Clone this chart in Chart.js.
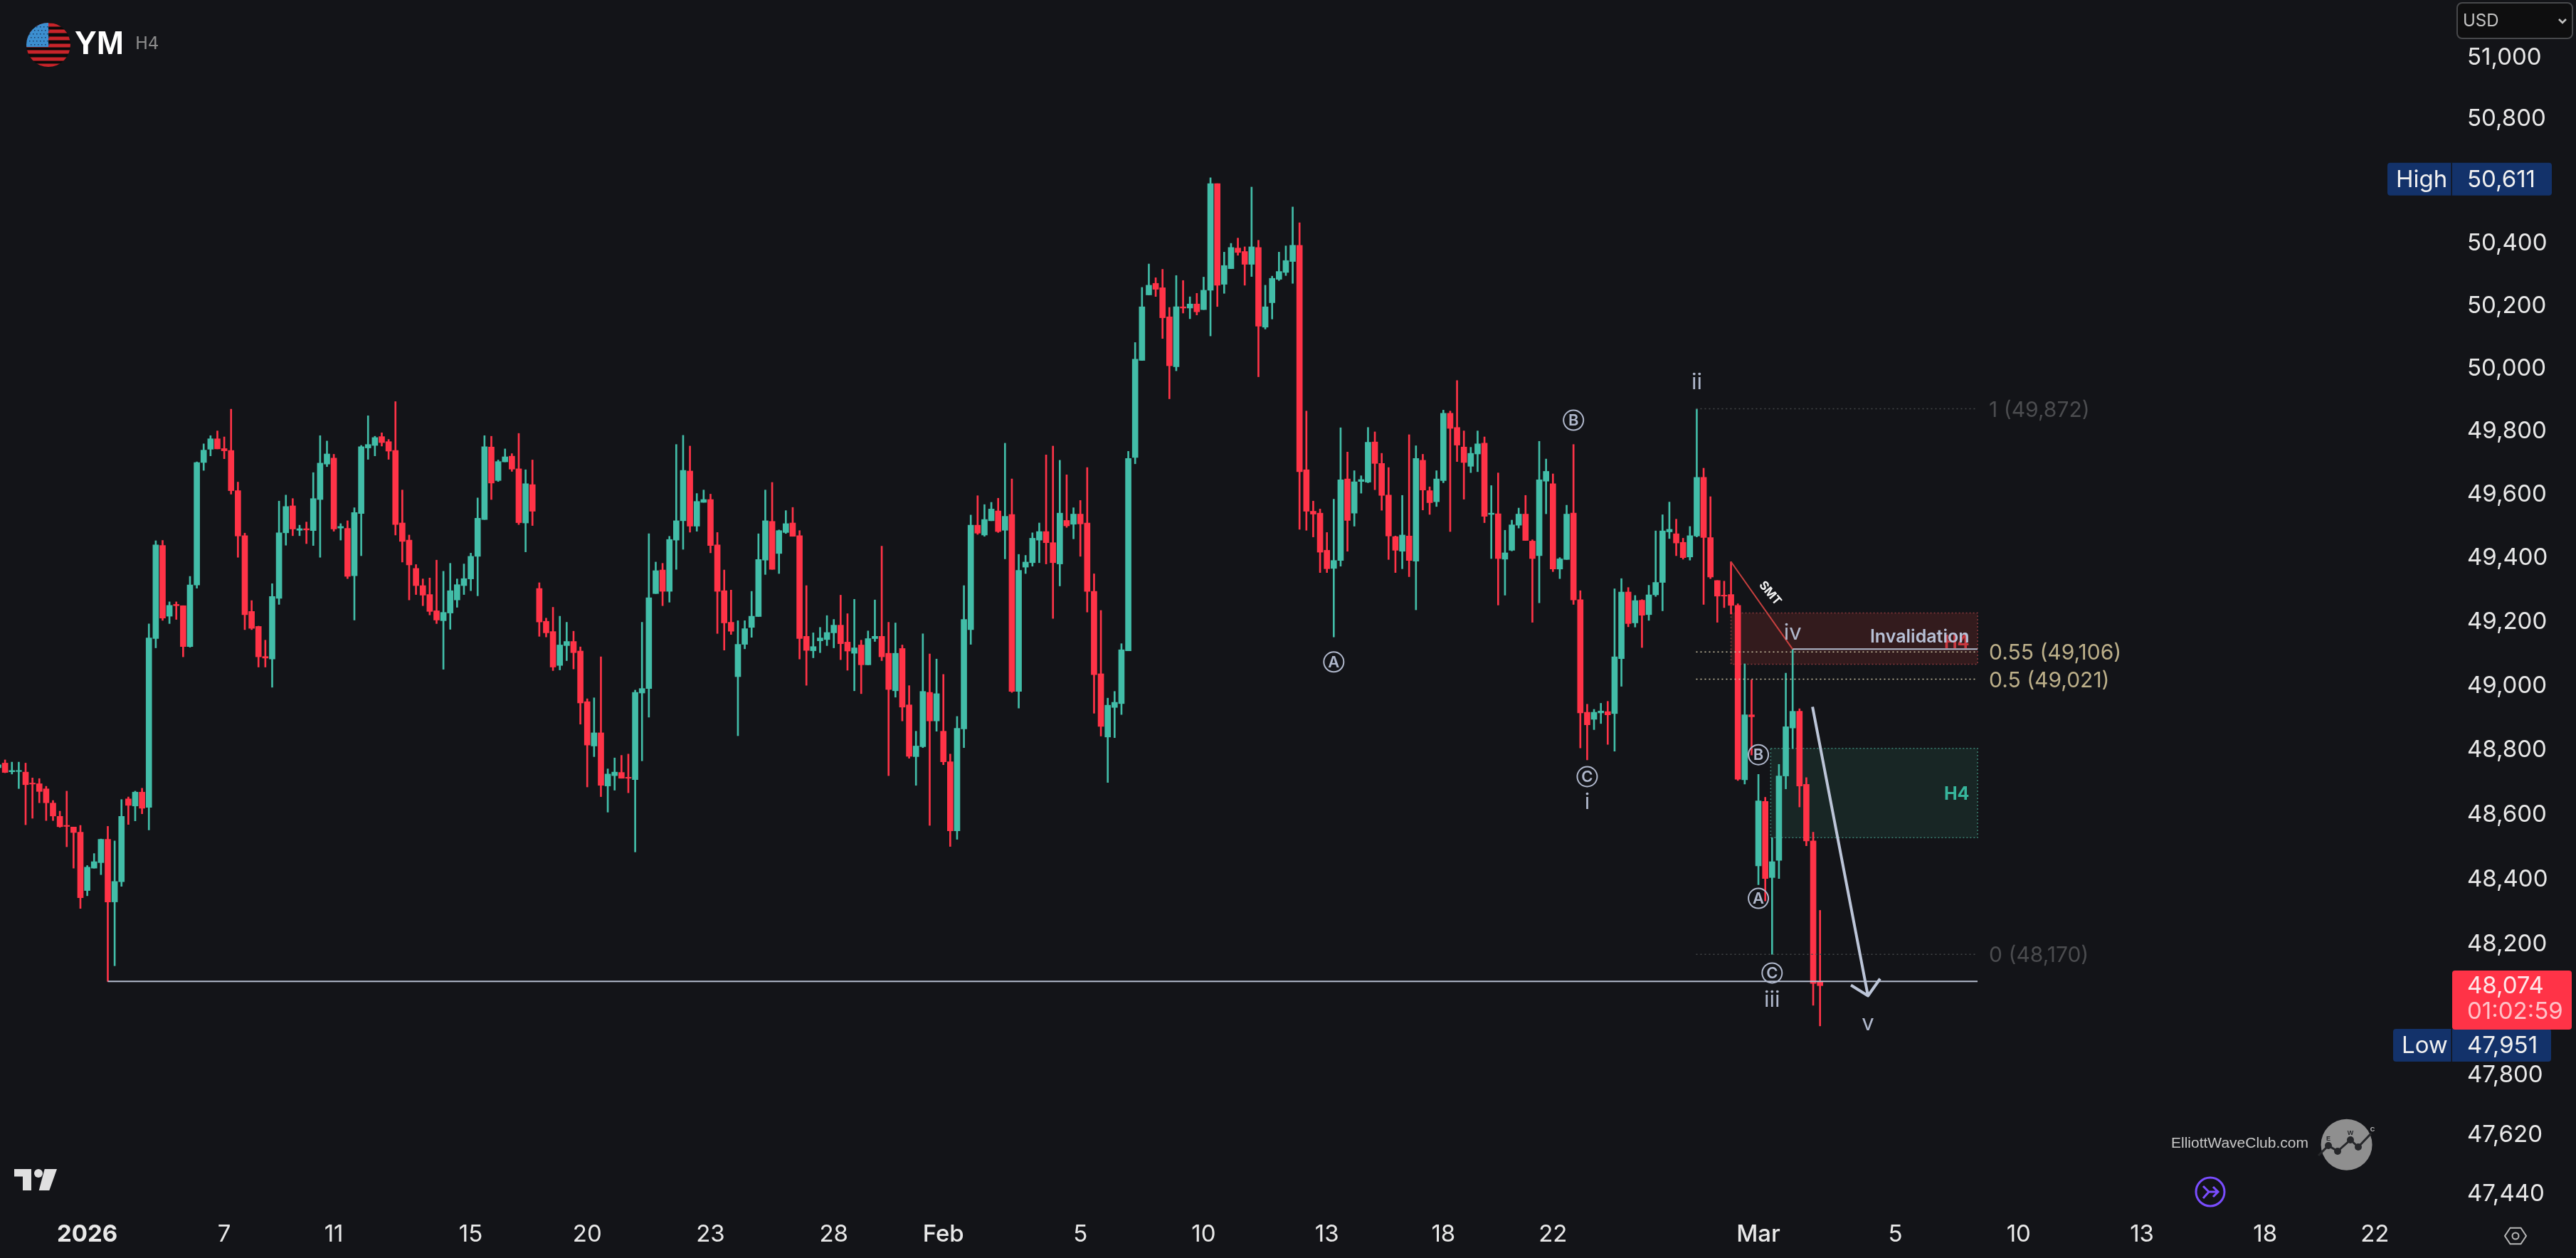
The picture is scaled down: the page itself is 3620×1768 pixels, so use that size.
<!DOCTYPE html>
<html>
<head>
<meta charset="utf-8">
<title>YM H4</title>
<script src="https://cdn.jsdelivr.net/npm/chart.js@4/dist/chart.umd.min.js"></script>
<style>
  html, body { margin: 0; padding: 0; background: #131418; }
  canvas { display: block; }
</style>
</head>
<body>
<canvas id="ymChart" width="3620" height="1768"></canvas>
<script>
const opens = [
  48746,48760,48733,48734,48732,48698,48696,48680,48636,48595,
  48567,48562,48546,48366,48435,48452,48524,48331,48393,48649,
  48627,48670,48623,49148,49440,49218,49255,49251,49123,49316,
  49702,49744,49777,49746,49740,49613,49471,49233,49186,49092,
  49084,49274,49480,49565,49488,49493,49487,49585,49697,49716,
  49495,49494,49345,49541,49748,49756,49784,49768,49740,49511,
  49457,49368,49314,49286,49235,49204,49228,49269,49314,49335,
  49406,49522,49751,49645,49704,49722,49682,49511,49632,49305,
  49202,49170,49064,49126,49139,49109,48951,48813,48854,48689,
  48721,48731,48716,48709,48978,48992,49289,49363,49296,49457,
  49518,49675,49501,49576,49585,49442,49298,49199,49029,49130,
  49183,49217,49394,49516,49415,49481,49511,49471,49155,49110,
  49141,49145,49166,49190,49137,49102,49128,49066,49148,49155,
  49102,48985,49117,48941,48780,48811,48980,48891,48859,48764,
  48550,48866,49176,49504,49473,49518,49549,49488,49538,48983,
  49372,49386,49457,49484,49449,49382,49519,49507,49539,49511,
  49296,49038,48841,48933,48945,49110,49718,50026,50235,50272,
  50258,50165,50006,50197,50193,50206,50188,50250,50592,50269,
  50319,50385,50374,50333,50387,50132,50210,50285,50307,50342,
  50394,49679,49548,49542,49425,49368,49393,49650,49542,49642,
  49640,49767,49699,49599,49468,49422,49470,49391,49709,49613,
  49578,49645,49858,49813,49751,49690,49729,49763,49538,49540,
  49397,49425,49504,49539,49454,49408,49643,49635,49366,49396,
  49542,49270,48918,48896,48916,48920,48914,49085,49294,49197,
  49268,49223,49285,49324,49483,49477,49450,49404,49470,49655,
  49465,49330,49284,49286,49252,48708,48910,48442,48641,48406,
  48459,48720,48869,48921,48694,48519,48087
];
const highs = [
  48761,48770,48763,48763,48760,48714,48712,48688,48644,48611,
  48673,48562,48567,48443,48480,48525,48564,48519,48647,48655,
  48673,48682,49194,49455,49456,49263,49263,49251,49343,49704,
  49761,49787,49802,49783,49871,49640,49479,49267,49187,49143,
  49320,49580,49599,49588,49504,49514,49670,49787,49770,49728,
  49509,49518,49559,49756,49850,49785,49796,49775,49895,49615,
  49473,49380,49335,49338,49394,49359,49384,49335,49382,49416,
  49590,49787,49785,49710,49745,49730,49794,49679,49710,49323,
  49212,49246,49218,49199,49171,49122,48960,48963,49091,48742,
  48776,48784,48788,48987,49199,49477,49388,49384,49469,49759,
  49788,49754,49604,49615,49602,49481,49363,49300,49204,49204,
  49296,49477,49615,49639,49489,49550,49560,49487,49314,49166,
  49183,49220,49208,49284,49226,49271,49143,49172,49269,49438,
  49199,49197,49128,49001,48859,49163,49100,49084,49036,48788,
  48905,49314,49536,49597,49569,49576,49589,49763,49650,49412,
  49409,49480,49511,49726,49754,49709,49663,49559,49582,49686,
  49351,49236,48962,48983,49132,49737,50083,50259,50334,50290,
  50317,50195,50297,50281,50229,50240,50292,50611,50592,50372,
  50400,50417,50389,50581,50410,50266,50295,50372,50392,50517,
  50466,49865,49580,49555,49481,49586,49812,49735,49676,49660,
  49813,49799,49731,49686,49470,49598,49790,49755,49728,49625,
  49676,49868,49865,49962,49802,49750,49802,49783,49629,49669,
  49488,49520,49558,49598,49458,49769,49713,49666,49402,49567,
  49759,49298,48943,48927,48946,48952,49304,49336,49308,49283,
  49270,49315,49486,49537,49577,49523,49463,49500,49872,49684,
  49594,49330,49328,49389,49257,49069,49019,48725,48654,48529,
  48756,49040,49116,48929,48715,48546,48305
];
const lows = [
  48743,48730,48726,48681,48569,48589,48637,48582,48582,48561,
  48501,48435,48311,48350,48435,48415,48087,48135,48379,48570,
  48581,48603,48553,49119,49205,49195,49208,49091,49121,49306,
  49677,49723,49745,49714,49602,49403,49176,49176,49059,49059,
  48996,49255,49441,49471,49471,49446,49440,49403,49689,49485,
  49457,49336,49206,49408,49712,49723,49754,49712,49473,49388,
  49269,49286,49251,49222,49195,49052,49177,49246,49286,49298,
  49282,49522,49585,49642,49704,49674,49506,49420,49503,49155,
  49153,49048,49050,49079,49053,48881,48686,48780,48656,48608,
  48676,48713,48668,48485,48767,48903,49289,49251,49262,49365,
  49428,49482,49485,49576,49417,49164,49112,49161,48845,49116,
  49152,49217,49349,49365,49352,49478,49469,49084,49002,49088,
  49104,49126,49119,49082,49049,48985,48976,49066,49139,49079,
  48721,48965,48891,48775,48691,48808,48567,48859,48755,48502,
  48524,48808,49130,49475,49469,49518,49481,49398,48980,48931,
  49352,49375,49386,49382,49211,49313,49497,49461,49406,49231,
  48915,48844,48700,48839,48911,49110,49698,50026,50235,50230,
  50096,49904,49993,50177,50159,50171,50188,50104,50198,50240,
  50319,50362,50266,50294,49974,50126,50158,50281,50297,50272,
  49491,49488,49467,49355,49355,49153,49375,49422,49501,49605,
  49638,49616,49551,49396,49355,49367,49342,49238,49552,49538,
  49563,49638,49484,49705,49586,49670,49673,49512,49399,49253,
  49284,49423,49495,49456,49199,49260,49540,49358,49336,49396,
  49255,48807,48770,48864,48883,48818,48797,48999,49185,49184,
  49120,49205,49280,49235,49462,49408,49397,49394,49467,49255,
  49336,49199,49245,49225,48706,48695,48785,48384,48334,48170,
  48403,48680,48805,48624,48504,48014,47951
];
const closes = [
  48755,48731,48737,48737,48693,48695,48672,48637,48596,48563,
  48564,48545,48344,48438,48455,48524,48331,48394,48595,48629,
  48670,48620,49150,49442,49212,49252,49251,49123,49316,49702,
  49741,49777,49745,49739,49613,49470,49223,49180,49091,49087,
  49280,49480,49563,49492,49493,49489,49588,49700,49729,49492,
  49500,49343,49544,49752,49759,49781,49765,49738,49506,49453,
  49379,49314,49284,49233,49206,49230,49298,49317,49336,49406,
  49526,49752,49637,49705,49720,49681,49512,49635,49548,49200,
  49166,49059,49128,49139,49104,48947,48816,48854,48691,48726,
  48732,48713,48713,48980,48992,49276,49361,49296,49459,49518,
  49677,49501,49579,49585,49440,49296,49197,49171,49130,49179,
  49218,49396,49518,49365,49487,49509,49469,49148,49111,49123,
  49150,49167,49190,49132,49109,49119,49066,49148,49155,49091,
  48989,49102,48934,48781,48813,48983,48891,48976,48764,48550,
  48868,49208,49504,49479,49522,49555,49484,49532,48983,49362,
  49388,49463,49484,49449,49386,49542,49502,49539,49508,49296,
  49035,48874,48940,48949,49113,49715,50030,50197,50266,50253,
  50162,50009,50197,50193,50206,50181,50250,50592,50266,50329,
  50387,50371,50333,50389,50135,50197,50288,50310,50345,50394,
  49673,49548,49539,49419,49367,49393,49647,49519,49641,49648,
  49766,49699,49598,49470,49425,49473,49393,49715,49615,49575,
  49650,49858,49810,49757,49702,49731,49761,49532,49542,49399,
  49417,49505,49539,49456,49399,49647,49674,49366,49398,49539,
  49269,48916,48879,48918,48922,48910,49091,49294,49195,49267,
  49221,49285,49324,49486,49491,49448,49402,49471,49655,49465,
  49341,49281,49281,49252,48710,48910,48904,48643,48403,48455,
  48720,48873,48921,48689,48519,48081,48074
];

// price axis
const priceTicks = [51000,50800,50400,50200,50000,49800,49600,49400,49200,49000,48800,48600,48400,48200,47800,47620,47440];
// time axis, position is the candle number
const timeTickBars = [13,33,49,69,86,104,122,138,158,176,194,211,227,257,277,295,313,331,347];
const timeTickLabels = ['2026','7','11','15','20','23','28','Feb','5','10','13','18','22','Mar','5','10','13','18','22'];

// fib levels
const fibValues = [49872,49106,49021,48170];
const fibLabels = ['1 (49,872)','0.55 (49,106)','0.5 (49,021)','0 (48,170)'];

// wave counts: text, candle number, price
const waveCircled = ['A','B','C','B','A','C'];
const waveCircledBars = [195,230,232,257,257,259];
const waveCircledPrices = [49075,49836,48718,48786,48342,48113];
const waveRoman = ['i','ii','iii','iv','v'];
const waveRomanBars = [232,248,259,262,273];
const waveRomanPrices = [48639,49956,48030,49166,47958];

const TEAL = '#42bda8';
const RED = '#ff3347';
const BG = '#131418';
const FONT = 'Inter, sans-serif';

const candleColors = closes.map((c, i) => (c >= opens[i] ? TEAL : RED));
const wicks = highs.map((h, i) => ({ x: i, y: [lows[i], h] }));
const bodies = closes.map((c, i) => ({ x: i, y: [opens[i], c] }));

const zonesPlugin = {
  id: 'zones',
  beforeDatasetsDraw(chart) {
    const { ctx, scales: { x, y } } = chart;
    const box = (i1, i2, p1, p2, fill, line) => {
      const left = x.getPixelForValue(i1), right = x.getPixelForValue(i2);
      const top = y.getPixelForValue(p1), bottom = y.getPixelForValue(p2);
      ctx.fillStyle = fill;
      ctx.fillRect(left, top, right - left, bottom - top);
      ctx.strokeStyle = line;
      ctx.lineWidth = 1.5;
      ctx.setLineDash([2, 3]);
      ctx.strokeRect(left, top, right - left, bottom - top);
      ctx.setLineDash([]);
    };
    ctx.save();
    box(253, 289, 49228, 49068, '#331b1d', '#8a3a3e');
    box(258.8, 289, 48806, 48529, '#182625', '#3b8072');
    ctx.restore();
  }
};

const drawingsPlugin = {
  id: 'drawings',
  afterDatasetsDraw(chart) {
    const { ctx, scales: { x, y } } = chart;
    const px = v => x.getPixelForValue(v);
    const py = v => y.getPixelForValue(v);
    ctx.save();

    // fib lines and their labels
    const fibLine = ['#45474a', '#cfc6a6', '#cfc6a6', '#45474a'];
    const fibText = ['#4b4c4f', '#bdb08a', '#bdb08a', '#4b4c4f'];
    fibValues.forEach((v, i) => {
      ctx.strokeStyle = fibLine[i];
      ctx.lineWidth = 1.5;
      ctx.setLineDash([2, 4]);
      ctx.beginPath();
      ctx.moveTo(px(247.9), py(v));
      ctx.lineTo(px(288.9), py(v));
      ctx.stroke();
      ctx.setLineDash([]);
      ctx.fillStyle = fibText[i];
      ctx.font = '30px ' + FONT;
      ctx.textAlign = 'left';
      ctx.textBaseline = 'middle';
      ctx.fillText(fibLabels[i], px(288.9) + 17, py(v) + 2);
    });

    // low line, iv line
    ctx.strokeStyle = '#b4bcce';
    ctx.lineWidth = 2;
    ctx.beginPath();
    ctx.moveTo(px(16), py(48087));
    ctx.lineTo(px(289), py(48087));
    ctx.moveTo(px(262), py(49115));
    ctx.lineTo(px(289), py(49115));
    ctx.stroke();

    // SMT
    ctx.strokeStyle = '#c8403f';
    ctx.lineWidth = 2;
    ctx.beginPath();
    ctx.moveTo(px(253), py(49389));
    ctx.lineTo(px(262), py(49115));
    ctx.stroke();
    ctx.save();
    ctx.translate(px(258.7), py(49290));
    ctx.rotate(50 * Math.PI / 180);
    ctx.fillStyle = '#f2f2f2';
    ctx.font = '700 17px ' + FONT;
    ctx.textAlign = 'center';
    ctx.textBaseline = 'middle';
    ctx.fillText('SMT', 0, 0);
    ctx.restore();

    // arrow
    const tipX = px(273), tipY = py(48043);
    ctx.strokeStyle = '#bcc5d8';
    ctx.lineWidth = 4;
    ctx.lineJoin = 'round';
    ctx.beginPath();
    ctx.moveTo(px(264.9), py(48935));
    ctx.lineTo(tipX, tipY);
    ctx.moveTo(tipX - 24, tipY - 15);
    ctx.lineTo(tipX, tipY);
    ctx.lineTo(tipX + 17, tipY - 24);
    ctx.stroke();

    // zone captions
    ctx.textAlign = 'right';
    ctx.textBaseline = 'middle';
    ctx.font = '700 25px ' + FONT;
    ctx.fillStyle = '#c8373f';
    ctx.fillText('H4', px(287.8), py(49135));
    ctx.fillStyle = '#37b59c';
    ctx.fillText('H4', px(287.8), py(48662));
    ctx.fillStyle = '#b7c0d6';
    ctx.font = '600 25px ' + FONT;
    ctx.fillText('Invalidation', px(287.8), py(49153));

    // wave counts
    ctx.textAlign = 'center';
    ctx.fillStyle = '#b0b8cc';
    ctx.font = '31px ' + FONT;
    waveRoman.forEach((t, i) => {
      ctx.fillText(t, px(waveRomanBars[i]), py(waveRomanPrices[i]));
    });
    ctx.font = '600 22px ' + FONT;
    ctx.strokeStyle = '#b0b8cc';
    ctx.lineWidth = 2;
    waveCircled.forEach((t, i) => {
      const cx = px(waveCircledBars[i]), cy = py(waveCircledPrices[i]);
      ctx.beginPath();
      ctx.arc(cx, cy, 14, 0, Math.PI * 2);
      ctx.stroke();
      ctx.fillText(t, cx, cy + 1);
    });
    ctx.restore();
  }
};

const overlayPlugin = {
  id: 'overlay',
  afterDraw(chart) {
    const { ctx, scales: { y } } = chart;
    const py = v => y.getPixelForValue(v);
    ctx.save();
    ctx.textBaseline = 'middle';

    // high and low badges, low sits under the last price tag
    const badge = (name, value, nameLeft, right, mid) => {
      ctx.fillStyle = '#13326a';
      ctx.beginPath();
      ctx.roundRect(nameLeft, mid - 23, right - nameLeft, 46, 4);
      ctx.fill();
      ctx.fillStyle = BG;
      ctx.fillRect(3444.5, mid - 23, 1.5, 46);
      ctx.fillStyle = '#f0f0f0';
      ctx.font = '33px ' + FONT;
      ctx.textAlign = 'left';
      ctx.fillText(name, nameLeft + 12, mid + 1);
      ctx.fillText(value.toLocaleString('en-US'), 3467, mid + 1);
    };
    badge('High', highs[177], 3355, 3586, py(highs[177]) + 2);
    badge('Low', lows[266], 3363, 3585, Math.max(py(lows[266]), 1469));

    // last price
    ctx.fillStyle = RED;
    ctx.beginPath();
    ctx.roundRect(3446, 1364, 168, 83, 4);
    ctx.fill();
    ctx.fillStyle = '#fde8ea';
    ctx.font = '33px ' + FONT;
    ctx.fillText(closes[266].toLocaleString('en-US'), 3467, 1386);
    ctx.fillStyle = '#ffc2c8';
    ctx.fillText('01:02:59', 3467, 1422);

    // currency box
    ctx.fillStyle = '#0e0e0f';
    ctx.strokeStyle = '#47484b';
    ctx.lineWidth = 2;
    ctx.beginPath();
    ctx.roundRect(3453, 4, 162, 50, 7);
    ctx.fill();
    ctx.stroke();
    ctx.fillStyle = '#c4c4c4';
    ctx.font = '24px ' + FONT;
    ctx.fillText('USD', 3461, 30);
    ctx.strokeStyle = '#c4c4c4';
    ctx.lineWidth = 2.5;
    ctx.beginPath();
    ctx.moveTo(3596, 27);
    ctx.lineTo(3601, 32);
    ctx.lineTo(3606, 27);
    ctx.stroke();

    // flag
    ctx.save();
    ctx.beginPath();
    ctx.arc(68, 63, 31, 0, Math.PI * 2);
    ctx.fillStyle = '#0a0a0a';
    ctx.fill();
    ctx.clip();
    ctx.fillStyle = '#c8242a';
    [35, 44, 54, 64, 73, 83, 92].forEach(s => ctx.fillRect(37, s - 2.5, 62, 5));
    ctx.fillStyle = '#3c8fd0';
    ctx.fillRect(37, 32, 31, 34);
    ctx.fillStyle = '#1c3c66';
    for (let r = 0; r < 6; r++) {
      for (let c = 0; c < 6; c++) {
        ctx.fillRect(41 + c * 5 + (r % 2) * 2, 37 + r * 5, 1.5, 1.5);
      }
    }
    ctx.restore();

    ctx.fillStyle = '#ffffff';
    ctx.font = '700 46px "Liberation Sans"';
    ctx.textAlign = 'left';
    ctx.fillText('YM', 105, 63);
    ctx.fillStyle = '#8c8c8c';
    ctx.font = '24px "DejaVu Sans"';
    ctx.fillText('H4', 190, 63);

    // tradingview mark
    ctx.fillStyle = '#e0e0e0';
    ctx.fillRect(20, 1643, 24, 10.5);
    ctx.fillRect(32, 1643, 12, 30);
    ctx.beginPath();
    ctx.arc(54, 1649, 6, 0, Math.PI * 2);
    ctx.fill();
    ctx.beginPath();
    ctx.moveTo(62.7, 1643);
    ctx.lineTo(80, 1643);
    ctx.lineTo(69.3, 1673);
    ctx.lineTo(54.7, 1673);
    ctx.closePath();
    ctx.fill();

    // club watermark
    ctx.fillStyle = '#c8c8c8';
    ctx.font = '21px "Liberation Sans"';
    ctx.fillText('ElliottWaveClub.com', 3051, 1607);
    ctx.fillStyle = '#8f8f8f';
    ctx.beginPath();
    ctx.arc(3297.6, 1608.7, 36, 0, Math.PI * 2);
    ctx.fill();
    const zig = [[3258, 1624], [3272, 1610], [3285, 1618], [3303, 1602], [3314, 1612], [3332, 1593]];
    ctx.strokeStyle = '#26272a';
    ctx.lineWidth = 3;
    ctx.beginPath();
    zig.forEach((p, i) => (i ? ctx.lineTo(p[0], p[1]) : ctx.moveTo(p[0], p[1])));
    ctx.stroke();
    ctx.fillStyle = '#26272a';
    zig.slice(1, 5).forEach(p => {
      ctx.beginPath();
      ctx.arc(p[0], p[1], 5, 0, Math.PI * 2);
      ctx.fill();
    });
    ctx.font = '700 9px "Liberation Sans"';
    ctx.textAlign = 'center';
    ctx.fillText('E', 3272, 1601);
    ctx.fillText('W', 3303, 1593);
    ctx.fillStyle = '#bdbdbd';
    ctx.fillText('C', 3334, 1588);

    // purple replay icon
    ctx.strokeStyle = '#7a4dff';
    ctx.lineWidth = 3;
    ctx.beginPath();
    ctx.arc(3106, 1675, 20, 0, Math.PI * 2);
    ctx.moveTo(3096, 1667);
    ctx.lineTo(3104, 1675);
    ctx.lineTo(3096, 1684);
    ctx.moveTo(3104, 1675);
    ctx.lineTo(3117, 1675);
    ctx.moveTo(3110, 1668);
    ctx.lineTo(3117, 1675);
    ctx.lineTo(3110, 1682);
    ctx.stroke();

    // settings icon
    ctx.strokeStyle = '#b8b8b8';
    ctx.lineWidth = 2;
    ctx.beginPath();
    for (let k = 0; k < 6; k++) {
      const a = k * Math.PI / 3;
      const hx = 3535 + 15 * Math.cos(a), hy = 1737 + 13 * Math.sin(a);
      if (k) ctx.lineTo(hx, hy); else ctx.moveTo(hx, hy);
    }
    ctx.closePath();
    ctx.moveTo(3539.5, 1737);
    ctx.arc(3535, 1737, 4.5, 0, Math.PI * 2);
    ctx.stroke();
    ctx.restore();
  }
};

const ctx = document.getElementById('ymChart').getContext('2d');
new Chart(ctx, {
  type: 'bar',
  data: {
    datasets: [
      { label: 'wick', data: wicks, backgroundColor: candleColors, barThickness: 2, grouped: false, order: 2 },
      { label: 'body', data: bodies, backgroundColor: candleColors, barThickness: 8, grouped: false, order: 1 }
    ]
  },
  options: {
    responsive: false,
    animation: false,
    layout: { padding: 0 },
    plugins: { legend: { display: false }, tooltip: { enabled: false } },
    scales: {
      x: {
        type: 'linear',
        offset: false,
        min: 0.26,
        max: 358.4,
        grid: { display: false, drawTicks: false },
        border: { display: false },
        afterBuildTicks: s => { s.ticks = timeTickBars.map(v => ({ value: v })); },
        afterFit: s => { s.height = 64; s.paddingLeft = 0; s.paddingRight = 0; },
        ticks: {
          autoSkip: false,
          maxRotation: 0,
          padding: 11,
          color: '#e8e8e8',
          font: c => {
            const name = timeTickLabels[c.index];
            if (name === '2026') return { family: 'Inter', size: 33, weight: '700' };
            if (name === 'Feb' || name === 'Mar') return { family: 'Inter', size: 33, weight: '500' };
            return { family: 'Inter', size: 33, weight: '400' };
          },
          callback: (v, i) => timeTickLabels[i]
        }
      },
      y: {
        type: 'logarithmic',
        position: 'right',
        min: 47385,
        max: 51187,
        grid: { display: false, drawTicks: false },
        border: { display: false },
        afterBuildTicks: s => { s.ticks = priceTicks.map(v => ({ value: v })); },
        afterFit: s => { s.width = 173; s.paddingTop = 0; s.paddingBottom = 0; },
        ticks: {
          padding: 20,
          color: '#e8e8e8',
          font: { family: 'Inter', size: 33 },
          callback: v => v.toLocaleString('en-US')
        }
      }
    }
  },
  plugins: [zonesPlugin, drawingsPlugin, overlayPlugin]
});
</script>
</body>
</html>
